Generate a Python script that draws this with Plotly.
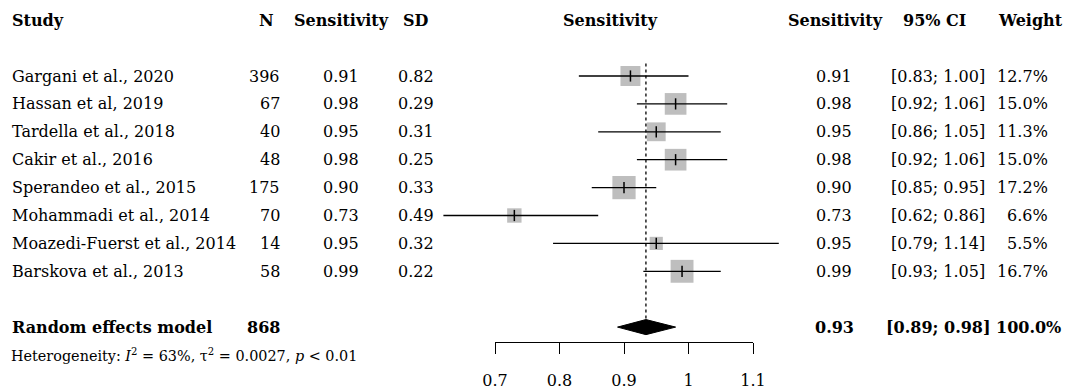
import plotly.graph_objects as go

# ---------------- data ----------------
studies = ["Gargani et al., 2020", "Hassan et al, 2019", "Tardella et al., 2018",
           "Cakir et al., 2016", "Sperandeo et al., 2015", "Mohammadi et al., 2014",
           "Moazedi-Fuerst et al., 2014", "Barskova et al., 2013"]
n_obs = [396, 67, 40, 48, 175, 70, 14, 58]
sens = [0.91, 0.98, 0.95, 0.98, 0.90, 0.73, 0.95, 0.99]
sd = [0.82, 0.29, 0.31, 0.25, 0.33, 0.49, 0.32, 0.22]
ci_lo = [0.83, 0.92, 0.86, 0.92, 0.85, 0.62, 0.79, 0.93]
ci_hi = [1.00, 1.06, 1.05, 1.06, 0.95, 0.86, 1.14, 1.05]
weight = [12.7, 15.0, 11.3, 15.0, 17.2, 6.6, 5.5, 16.7]

pooled_label = "Random effects model"
pooled_n = 868
pooled_est = 0.934
pooled_lo = 0.89
pooled_hi = 0.98
pooled_weight = 100.0
heterogeneity = "Heterogeneity: <i>I</i><sup>2</sup> = 63%, τ<sup>2</sup> = 0.0027, <i>p</i> &lt; 0.01"

x_ticks = [0.7, 0.8, 0.9, 1.0, 1.1]
x_tick_labels = ["0.7", "0.8", "0.9", "1", "1.1"]

headers = ["Study", "N", "Sensitivity", "SD", "Sensitivity", "Sensitivity", "95% CI", "Weight"]

# ---------------- layout helpers ----------------
W, H = 1071, 390
FONT = "DejaVu Serif"
FS = 16
ROW_PX = 27.9
ROW0_PX = 76.0
y_top = -ROW0_PX / ROW_PX
y_bot = (H - ROW0_PX) / ROW_PX

rows = list(range(len(studies)))
pooled_row = len(studies) + 1
het_row = pooled_row + 1
header_row = -2

# pixel mapping for the forest axis: 0.7 -> 495px, 1.1 -> 753px
px_per_unit = (753 - 495) / 0.4
def val_at(px):
    return 0.7 + (px - 495) / px_per_unit

main_dom = (430, 790)

fig = go.Figure()

# dummy trace for visible axis (drawn first)
fig.add_trace(go.Scatter(x=x_ticks, y=[None] * len(x_ticks), xaxis="x2", yaxis="y",
                         mode="markers", showlegend=False, hoverinfo="skip"))

# squares (area proportional to weight)
sizes = [5.6 * w ** 0.5 for w in weight]
fig.add_trace(go.Scatter(
    x=sens, y=rows, mode="markers",
    marker=dict(symbol="square", size=sizes, color="#bebebe", opacity=1,
                line=dict(width=0)),
    hoverinfo="skip", showlegend=False))

# CI lines
lx, ly = [], []
for lo, hi, r in zip(ci_lo, ci_hi, rows):
    lx += [lo, hi, None]
    ly += [r, r, None]
fig.add_trace(go.Scatter(x=lx, y=ly, mode="lines",
                         line=dict(color="black", width=1.3),
                         hoverinfo="skip", showlegend=False))

# point-estimate ticks
fig.add_trace(go.Scatter(
    x=sens, y=rows, mode="markers",
    marker=dict(symbol="line-ns", size=8, opacity=1, line=dict(color="black", width=1.5)),
    hoverinfo="skip", showlegend=False))

# diamond
dh = 0.27
fig.add_trace(go.Scatter(
    x=[pooled_lo, pooled_est, pooled_hi, pooled_est, pooled_lo],
    y=[pooled_row, pooled_row - dh, pooled_row, pooled_row + dh, pooled_row],
    mode="lines", fill="toself", fillcolor="black",
    line=dict(color="black", width=1), hoverinfo="skip", showlegend=False))

# dotted reference line at pooled estimate
fig.add_shape(type="line", xref="x", yref="y",
              x0=pooled_est, x1=pooled_est, y0=-0.45, y1=pooled_row - dh,
              line=dict(color="black", width=1.3, dash="dot"))

# ---------------- text ----------------
def ann(text, px, row, anchor, bold=False, size=FS):
    if bold:
        text = "<b>" + text + "</b>"
    fig.add_annotation(text=text, x=px / W, y=row, xref="paper", yref="y",
                       xanchor=anchor, yanchor="middle", showarrow=False,
                       font=dict(family=FONT, size=size, color="black"))

# headers
ann(headers[0], 10, header_row, "left", True)
ann(headers[1], 276, header_row, "right", True)
ann(headers[2], 341, header_row, "center", True)
ann(headers[3], 401, header_row, "left", True)
ann(headers[4], 610, header_row, "center", True)
ann(headers[5], 835, header_row, "center", True)
ann(headers[6], 934, header_row, "center", True)
ann(headers[7], 1030, header_row, "center", True)

for i, r in enumerate(rows):
    ann(studies[i], 10, r, "left")
    ann(str(n_obs[i]), 282, r, "right")
    ann(f"{sens[i]:.2f}", 341, r, "center")
    ann(f"{sd[i]:.2f}", 436, r, "right")
    ann(f"{sens[i]:.2f}", 834, r, "center")
    ann(f"[{ci_lo[i]:.2f}; {ci_hi[i]:.2f}]", 938, r, "center")
    ann(f"{weight[i]:.1f}%", 1050, r, "right")

ann(pooled_label, 10, pooled_row, "left", True)
ann(str(pooled_n), 282, pooled_row, "right", True)
ann(f"{pooled_est:.2f}", 834, pooled_row, "center", True)
ann(f"[{pooled_lo:.2f}; {pooled_hi:.2f}]", 938, pooled_row, "center", True)
ann(f"{pooled_weight:.1f}%", 1028, pooled_row, "center", True)
ann(heterogeneity, 9, het_row, "left", size=14.4)

axis_px = 342
fig.update_layout(
    width=W, height=H,
    margin=dict(l=0, r=0, t=0, b=0, autoexpand=False),
    paper_bgcolor="white", plot_bgcolor="rgba(0,0,0,0)",
    showlegend=False,
    xaxis=dict(domain=[main_dom[0] / W, main_dom[1] / W],
               range=[val_at(main_dom[0]), val_at(main_dom[1])],
               visible=False, fixedrange=True),
    xaxis2=dict(domain=[495 / W, 753 / W], range=[0.7, 1.1],
                anchor="free", position=1 - axis_px / H, side="bottom",
                showline=True, linecolor="black", linewidth=1.3,
                ticks="outside", ticklen=11, tickwidth=1.3, tickcolor="black",
                tickvals=x_ticks, ticktext=x_tick_labels,
                ticklabelstandoff=13, automargin=False,
                tickfont=dict(family=FONT, size=FS, color="black"),
                showgrid=False, zeroline=False, fixedrange=True),
    yaxis=dict(domain=[0, 1], range=[y_bot, y_top], visible=False, fixedrange=True),
)

fig.write_html("out.html", config={"displayModeBar": False},
               post_script="document.body.style.margin='0px';")
